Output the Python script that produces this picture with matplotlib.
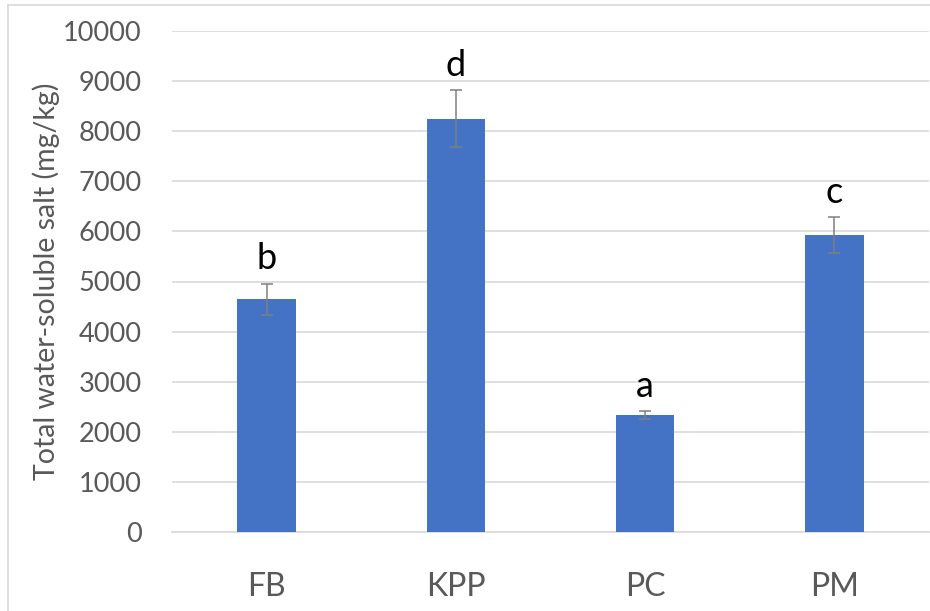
import matplotlib
matplotlib.use("Agg")
import matplotlib.pyplot as plt
from matplotlib.lines import Line2D

# Data
categories = ["FB", "KPP", "PC", "PM"]
values = [4650, 8250, 2335, 5925]
errors = [310, 570, 75, 365]
letters = ["b", "d", "a", "c"]

plt.rcParams['font.family'] = ['Lato', 'DejaVu Sans']

fig = plt.figure(figsize=(9.3, 6.11), dpi=100)
W, H = 930, 611
ax = fig.add_axes([172 / W, (H - 532) / H, (929 - 172) / W, (532 - 31) / H])

x = range(len(categories))
ax.bar(x, values, width=0.31, color="#4472c4", zorder=3)
ax.errorbar(x, values, yerr=errors, fmt="none", ecolor="#7f7f7f",
            elinewidth=1.1, capsize=4, capthick=1.1, zorder=4)

for i, (v, e, t) in enumerate(zip(values, errors, letters)):
    ax.annotate(t, (i, v + e), xytext=(0, 6), textcoords="offset points",
                ha="center", va="bottom", fontsize=26, color="black")

ax.set_xlim(-0.5, len(categories) - 0.5)
ax.set_ylim(0, 10000)
ax.set_yticks(range(0, 10001, 1000))
ax.set_xticks(list(x))
ax.set_xticklabels(categories)
ax.grid(axis="y", color="#d9d9d9", linewidth=1.2, zorder=0)
for s in ["top", "right", "left"]:
    ax.spines[s].set_visible(False)
ax.spines["bottom"].set_color("#d9d9d9")
ax.spines["bottom"].set_linewidth(1.2)
ax.tick_params(axis="y", length=0, labelsize=19.5, labelcolor="#595959", pad=22)
ax.tick_params(axis="x", length=0, labelsize=23, labelcolor="#595959", pad=29)
ax.set_ylabel("Total water-soluble salt (mg/kg)", fontsize=20.5, color="#595959", labelpad=2)

# outer frame
fig.add_artist(Line2D([8 / W, 8 / W], [0, 1 - 5 / H], color="#d9d9d9", lw=1.2))
fig.add_artist(Line2D([8 / W, 1], [1 - 5 / H, 1 - 5 / H], color="#d9d9d9", lw=1.2))

fig.savefig("out.png", dpi=100)
